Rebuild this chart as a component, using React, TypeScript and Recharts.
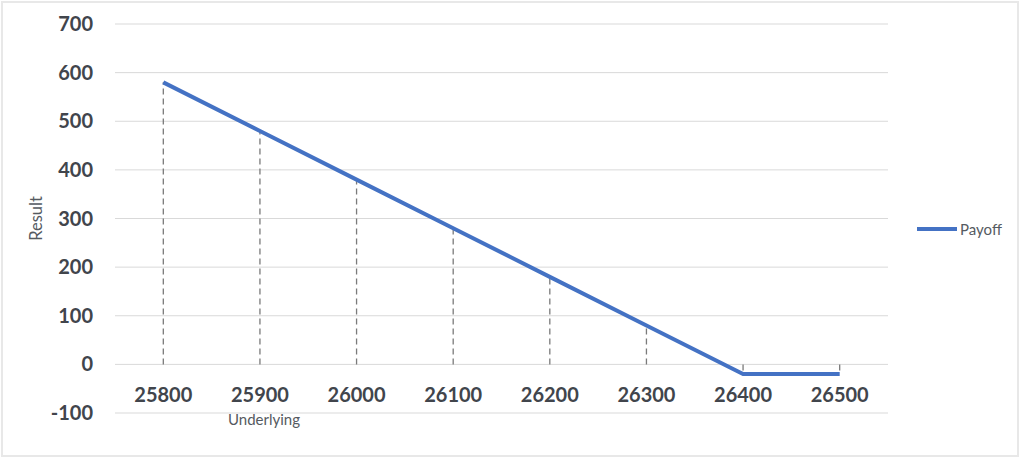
import React from 'react';
import { LineChart, Line, XAxis, YAxis, CartesianGrid, ReferenceLine, Legend } from 'recharts';

const underlying = [25800, 25900, 26000, 26100, 26200, 26300, 26400, 26500];
const payoff = [580, 480, 380, 280, 180, 80, -20, -20];
const yTicks = [-100, 0, 100, 200, 300, 400, 500, 600, 700];
const seriesName = 'Payoff';

const data = underlying.map((u, i) => ({ underlying: String(u), payoff: payoff[i] }));

const FONT = 'Lato, "Open Sans", sans-serif';
const TEXT = '#41454c';
const BLUE = '#4472C4';

const XTick = (props: any) => {
  const { x, y, payload } = props;
  return (
    <text x={x} y={y - 19} textAnchor="middle" fontFamily={FONT} fontWeight={700} fontSize={20} fill={TEXT}>
      {payload.value}
    </text>
  );
};

const LegendContent = () => (
  <div style={{ display: 'flex', alignItems: 'center', fontFamily: FONT, fontSize: 15, color: '#555a61' }}>
    <svg width={42} height={8} style={{ display: 'block' }}>
      <line x1={1} y1={4} x2={41} y2={4} stroke={BLUE} strokeWidth={4} />
    </svg>
    <span style={{ marginLeft: 2 }}>{seriesName}</span>
  </div>
);

export default function App() {
  return (
    <div style={{ position: 'absolute', left: 0, top: 0, width: 1024, height: 462, background: '#fff' }}>
      <div style={{ position: 'absolute', left: 1, top: 1, width: 1018, height: 456, border: '2px solid #e8e8e8', boxSizing: 'border-box' }} />
      <LineChart width={1024} height={462} data={data} margin={{ top: 24, right: 36, bottom: 0, left: 0 }}>
        <CartesianGrid vertical={false} stroke="#d9d9d9" strokeWidth={1} />
        <XAxis
          dataKey="underlying"
          scale="band"
          height={49}
          axisLine={false}
          tickLine={false}
          tick={<XTick />}
          interval={0}
        />
        <YAxis
          width={115}
          domain={[-100, 700]}
          ticks={yTicks}
          axisLine={false}
          tickLine={false}
          tickMargin={16}
          tick={{ fontFamily: FONT, fontWeight: 700, fontSize: 20, fill: TEXT }}
          label={{ value: 'Result', angle: -90, position: 'insideLeft', offset: 36, style: { fontFamily: FONT, fontSize: 16.5, fill: '#555a61', textAnchor: 'middle' } }}
        />
        {data.map((d) => (
          <ReferenceLine
            key={d.underlying}
            segment={[{ x: d.underlying, y: 0 }, { x: d.underlying, y: d.payoff }]}
            stroke="#7a7a7a"
            strokeWidth={1.3}
            strokeDasharray="6 4"
          />
        ))}
        <Line
          type="linear"
          dataKey="payoff"
          name={seriesName}
          stroke={BLUE}
          strokeWidth={4}
          dot={false}
          activeDot={false}
          isAnimationActive={false}
        />
        <Legend
          layout="vertical"
          align="right"
          verticalAlign="top"
          content={<LegendContent />}
          wrapperStyle={{ left: 916, top: 220, width: 100 }}
        />
      </LineChart>
      <div style={{ position: 'absolute', left: 228, top: 410, fontFamily: FONT, fontSize: 15, color: '#555a61', whiteSpace: 'nowrap' }}>
        Underlying
      </div>
    </div>
  );
}
